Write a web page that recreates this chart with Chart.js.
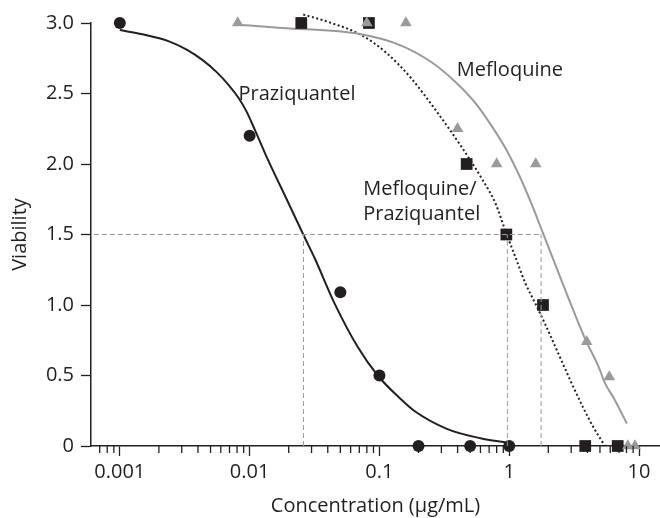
<!DOCTYPE html>
<html lang="en">
<head>
    <meta charset="UTF-8">
    <title>Viability</title>
    <script src="https://cdn.jsdelivr.net/npm/chart.js@4.4.1/dist/chart.umd.min.js"></script>
    <style>
        body { margin: 0; background: #fff; }
    </style>
</head>
<body>
    <canvas id="myChart" width="660" height="518"></canvas>
    <script>
        // measured points
        var pzqX = [0.001, 0.01, 0.05, 0.1, 0.2, 0.5, 1];
        var pzqY = [3.0, 2.2, 1.09, 0.5, 0, 0, 0];
        var mefX = [0.0081, 0.08, 0.16, 0.4, 0.8, 1.6, 3.95, 5.9, 8.2, 9.3];
        var mefY = [3.0, 3.0, 3.0, 2.25, 2.0, 2.0, 0.74, 0.49, 0, 0];
        var combX = [0.025, 0.083, 0.47, 0.95, 1.82, 3.85, 6.85];
        var combY = [3.0, 3.0, 2.0, 1.5, 1.0, 0, 0];

        // fitted curves
        var pzqFitX = [0.001, 0.00149, 0.00239, 0.0033, 0.0043, 0.0056, 0.0069, 0.0082, 0.0095, 0.011, 0.014, 0.0193, 0.0259, 0.0318, 0.0452, 0.0683, 0.097, 0.147, 0.185, 0.334, 0.6, 0.96];
        var pzqFitY = [2.95, 2.92, 2.87, 2.81, 2.74, 2.65, 2.56, 2.47, 2.37, 2.24, 2.02, 1.75, 1.50, 1.33, 1.01, 0.70, 0.50, 0.33, 0.25, 0.12, 0.055, 0.023];
        var mefFitX = [0.0075, 0.0177, 0.0724, 0.147, 0.249, 0.387, 0.551, 0.744, 0.952, 1.20, 1.48, 1.80, 2.30, 2.94, 3.84, 4.89, 5.44, 6.38, 8.05];
        var mefFitY = [2.99, 2.965, 2.92, 2.84, 2.725, 2.58, 2.43, 2.26, 2.10, 1.915, 1.72, 1.52, 1.27, 1.02, 0.76, 0.56, 0.45, 0.34, 0.16];
        var combFitX = [0.0259, 0.0427, 0.0724, 0.1125, 0.175, 0.272, 0.423, 0.602, 0.784, 0.935, 1.12, 1.33, 1.59, 1.89, 2.34, 2.94, 3.70, 4.50, 5.46];
        var combFitY = [3.06, 3.0, 2.915, 2.79, 2.61, 2.38, 2.13, 1.91, 1.72, 1.525, 1.335, 1.155, 1.01, 0.865, 0.675, 0.47, 0.275, 0.125, 0];

        // 50% lines
        var halfY = 1.5;
        var halfX = [0.026, 0.967, 1.76];

        var xTicks = [0.001, 0.01, 0.1, 1, 10];
        var yTicks = [0, 0.5, 1.0, 1.5, 2.0, 2.5, 3.0];

        var labels = [
            { text: "Praziquantel", x: 0.0082, y: 2.455 },
            { text: "Mefloquine", x: 0.395, y: 2.626 },
            { text: "Mefloquine/", x: 0.075, y: 1.78 },
            { text: "Praziquantel", x: 0.075, y: 1.60 }
        ];

        var X_MIN = 0.000631, X_MAX = 14.5;
        var INK = "#231f20", GREY = "#9a9a9a";

        var f_pts = function(xs, ys){
            var v_out = [];
            for(var i=0; i<xs.length; i++) v_out.push({x: xs[i], y: ys[i]});
            return v_out;
        };

        var f_ref = function(){
            var v_sets = [];
            var v_maxX = Math.max.apply(null, halfX);
            v_sets.push({ data: [{x: X_MIN, y: halfY}, {x: v_maxX, y: halfY}] });
            halfX.forEach(function(v){
                v_sets.push({ data: [{x: v, y: 0}, {x: v, y: halfY}] });
            });
            return v_sets.map(function(s){
                s.showLine = true; s.borderColor = GREY; s.borderWidth = 1;
                s.borderDash = [5, 3]; s.pointRadius = 0; s.clip = false;
                return s;
            });
        };

        Chart.defaults.font.family = "'Open Sans', sans-serif";
        Chart.defaults.font.size = 20;
        Chart.defaults.color = INK;

        // minor ticks on the log axis + text labels
        var extras = {
            id: "extras",
            afterDraw: function(chart){
                var ctx = chart.ctx, xs = chart.scales.x, ys = chart.scales.y;
                ctx.save();
                ctx.strokeStyle = INK; ctx.lineWidth = 1.3;
                for(var d=-4; d<=1; d++){
                    for(var m=2; m<=9; m++){
                        var v = m * Math.pow(10, d);
                        if(v < X_MIN || v > X_MAX) continue;
                        var px = xs.getPixelForValue(v);
                        ctx.beginPath();
                        ctx.moveTo(px, ys.bottom); ctx.lineTo(px, ys.bottom + 7);
                        ctx.stroke();
                    }
                }
                ctx.fillStyle = INK;
                ctx.font = "20px 'Open Sans', sans-serif";
                ctx.textAlign = "left"; ctx.textBaseline = "alphabetic";
                labels.forEach(function(l){
                    ctx.fillText(l.text, xs.getPixelForValue(l.x), ys.getPixelForValue(l.y));
                });
                ctx.restore();
            }
        };

        var v_datasets = f_ref().concat([
            { data: f_pts(mefX, mefY), pointStyle: "triangle", pointRadius: 6.7,
              backgroundColor: GREY, borderWidth: 0, clip: false },
            { data: f_pts(combX, combY), pointStyle: "rect", pointRadius: 8.3,
              backgroundColor: INK, borderWidth: 0, clip: false },
            { data: f_pts(pzqX, pzqY), pointStyle: "circle", pointRadius: 6,
              backgroundColor: INK, borderWidth: 0, clip: false },
            { data: f_pts(pzqFitX, pzqFitY), showLine: true, pointRadius: 0,
              borderColor: INK, borderWidth: 2, cubicInterpolationMode: "monotone", clip: false },
            { data: f_pts(mefFitX, mefFitY), showLine: true, pointRadius: 0,
              borderColor: GREY, borderWidth: 2, cubicInterpolationMode: "monotone", clip: false },
            { data: f_pts(combFitX, combFitY), showLine: true, pointRadius: 0,
              borderColor: INK, borderWidth: 2, borderDash: [2, 2.5], cubicInterpolationMode: "monotone", clip: false }
        ]);

        const myChart = new Chart(document.getElementById("myChart").getContext("2d"), {
            type: "scatter",
            data: { datasets: v_datasets },
            options: {
                responsive: false,
                animation: false,
                events: [],
                layout: { autoPadding: false, padding: { top: 23, right: 0, left: 0, bottom: 0 } },
                plugins: { legend: { display: false }, tooltip: { enabled: false } },
                scales: {
                    x: {
                        type: "logarithmic",
                        min: X_MIN, max: X_MAX,
                        afterBuildTicks: function(s){ s.ticks = xTicks.map(function(v){ return {value: v}; }); },
                        afterFit: function(s){ s.height = 72; s.paddingLeft = 0; s.paddingRight = 0; },
                        ticks: { autoSkip: false, maxRotation: 0, padding: 4,
                                 callback: function(v){ return String(v); } },
                        grid: { drawOnChartArea: false, color: INK, tickLength: 10, tickWidth: 1.3 },
                        border: { color: INK, width: 1.5 },
                        title: { display: true, text: "Concentration (µg/mL)", padding: { top: 0, bottom: 0 } }
                    },
                    y: {
                        min: 0, max: 3,
                        afterBuildTicks: function(s){ s.ticks = yTicks.map(function(v){ return {value: v}; }); },
                        afterFit: function(s){ s.width = 91; s.paddingTop = 0; s.paddingBottom = 0; },
                        ticks: { padding: 7, callback: function(v){ return v === 0 ? "0" : v.toFixed(1); } },
                        grid: { drawOnChartArea: false, color: INK, tickLength: 10, tickWidth: 1.3 },
                        border: { color: INK, width: 1.5 },
                        title: { display: true, text: "Viability", padding: { top: 8, bottom: 0 } }
                    }
                }
            },
            plugins: [extras]
        });
    </script>
</body>
</html>
